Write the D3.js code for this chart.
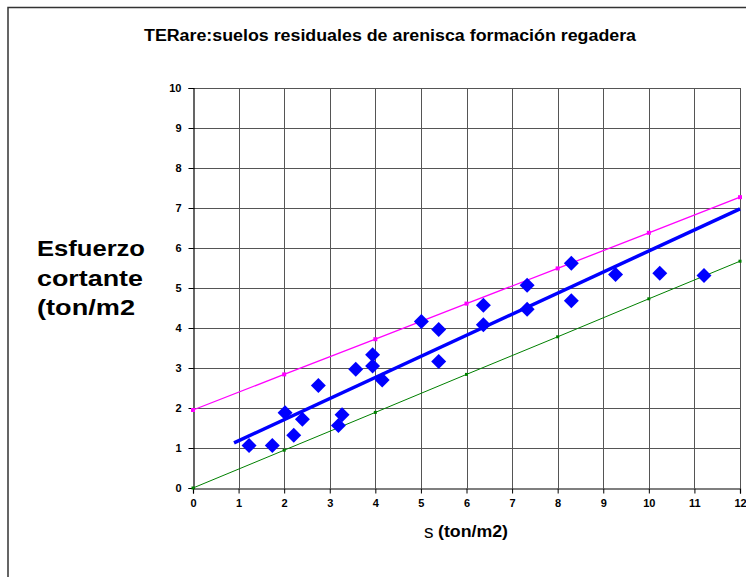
<!DOCTYPE html>
<html>
<head>
<meta charset="utf-8">
<script src="https://cdn.jsdelivr.net/npm/d3@7"></script>
<style>
  html, body { margin: 0; padding: 0; background: #fff; }
  svg { display: block; }
  text { font-family: "Liberation Sans", Arial, sans-serif; }
</style>
</head>
<body>
<svg id="chart" width="746" height="577"></svg>
<script>
// Measured shear test points: normal stress (ton/m2) vs shear stress (ton/m2)
const sigma = [1.23, 1.74, 2.02, 2.21, 2.40, 2.75, 3.19, 3.27, 3.57, 3.94, 3.94, 4.15,
               5.01, 5.39, 5.39, 6.37, 6.37, 7.33, 7.33, 8.30, 8.30, 9.27, 10.24, 11.21];
const tau   = [1.06, 1.06, 1.88, 1.32, 1.72, 2.56, 1.56, 1.83, 2.97, 3.33, 3.05, 2.70,
               4.16, 3.96, 3.16, 4.08, 4.57, 5.07, 4.47, 5.62, 4.68, 5.34, 5.37, 5.31];

// Fitted trend line end points
const fitX = [0.9, 12];
const fitY = [1.13, 6.98];

// Upper envelope (magenta) and lower envelope (green)
const envX     = [0, 2, 4, 6, 8, 10, 12];
const upperY   = [1.95, 2.84, 3.72, 4.61, 5.49, 6.38, 7.27];
const lowerY   = [0, 0.945, 1.89, 2.84, 3.78, 4.73, 5.67];

const xTicks = d3.range(0, 13);
const yTicks = d3.range(0, 11);

const titleText = "TERare:suelos residuales de arenisca formación regadera";
const yTitleLines = ["Esfuerzo", "cortante", "(ton/m2"];
const yTitleWidths = [108, 106, 98];

const svg = d3.select("#chart");

// outer frame (only top and left edges fall inside the page)
svg.append("path")
  .attr("d", "M8,577 V7.5 H746")
  .attr("fill", "none")
  .attr("stroke", "#333")
  .attr("stroke-width", 1.5);

const x = d3.scaleLinear().domain([0, 12]).range([193, 740]);
const y = d3.scaleLinear().domain([0, 10]).range([488, 88]);

// gridlines
const grid = svg.append("g").attr("stroke", "#555").attr("stroke-width", 1);
grid.selectAll("line.v").data(xTicks.slice(1)).join("line")
  .attr("x1", d => Math.round(x(d)) + 0.5).attr("x2", d => Math.round(x(d)) + 0.5)
  .attr("y1", y(10)).attr("y2", y(0));
grid.selectAll("line.h").data(yTicks.slice(1)).join("line")
  .attr("x1", x(0)).attr("x2", x(12))
  .attr("y1", d => Math.round(y(d)) + 0.5).attr("y2", d => Math.round(y(d)) + 0.5);

// axes
const xAxis = svg.append("g")
  .attr("transform", `translate(0,${y(0) + 0.5})`)
  .call(d3.axisBottom(x).tickValues(xTicks).tickSize(5).tickPadding(6).tickFormat(d3.format("d")));
const yAxis = svg.append("g")
  .attr("transform", `translate(${x(0) + 0.5},0)`)
  .call(d3.axisLeft(y).tickValues(yTicks).tickSize(5).tickPadding(7).tickFormat(d3.format("d")));
[xAxis, yAxis].forEach(g => {
  g.select(".domain").attr("stroke", "#000").attr("stroke-width", 1.2);
  g.selectAll(".tick line").attr("stroke", "#000");
  g.selectAll(".tick text")
    .attr("font-family", "'Liberation Sans', Arial, sans-serif")
    .attr("font-size", 11).attr("font-weight", "bold").attr("fill", "#000");
});

// envelopes
const line = d3.line().x(d => x(d[0])).y(d => y(d[1]));
const upper = envX.map((v, i) => [v, upperY[i]]);
const lower = envX.map((v, i) => [v, lowerY[i]]);

svg.append("path").datum(upper).attr("d", line)
  .attr("fill", "none").attr("stroke", "#ff00ff").attr("stroke-width", 1.3);
svg.selectAll("rect.up").data(upper).join("rect")
  .attr("x", d => x(d[0]) - 2).attr("y", d => y(d[1]) - 2)
  .attr("width", 4).attr("height", 4).attr("fill", "#ff00ff");

svg.append("path").datum(lower).attr("d", line)
  .attr("fill", "none").attr("stroke", "#008000").attr("stroke-width", 1);
svg.selectAll("rect.lo").data(lower).join("rect")
  .attr("x", d => x(d[0]) - 1.5).attr("y", d => y(d[1]) - 1.5)
  .attr("width", 3).attr("height", 3).attr("fill", "#008000");

// trend line
svg.append("path").datum(fitX.map((v, i) => [v, fitY[i]])).attr("d", line)
  .attr("fill", "none").attr("stroke", "#0000ff").attr("stroke-width", 3.5);

// data points as diamonds
const diamond = d3.symbol().type(d3.symbolSquare).size(112);
svg.selectAll("path.pt").data(sigma.map((v, i) => [v, tau[i]])).join("path")
  .attr("d", diamond)
  .attr("transform", d => `translate(${x(d[0])},${y(d[1])}) rotate(45)`)
  .attr("fill", "#0000ff");

// title
svg.append("text")
  .attr("x", 390).attr("y", 41)
  .attr("text-anchor", "middle")
  .attr("font-size", 16).attr("font-weight", "bold")
  .attr("textLength", 492).attr("lengthAdjust", "spacingAndGlyphs")
  .text(titleText);

// y-axis title
svg.append("g").selectAll("text").data(yTitleLines).join("text")
  .attr("x", 37).attr("y", (d, i) => [256, 286, 315][i])
  .attr("font-size", 22.5).attr("font-weight", "bold")
  .attr("textLength", (d, i) => yTitleWidths[i]).attr("lengthAdjust", "spacingAndGlyphs")
  .text(d => d);

// x-axis title: sigma symbol followed by units
svg.append("text").attr("x", 424).attr("y", 538)
  .attr("font-family", "'Liberation Serif', 'Times New Roman', serif")
  .attr("font-size", 19).text("s");
svg.append("text").attr("x", 438).attr("y", 537)
  .attr("font-size", 16).attr("font-weight", "bold")
  .attr("textLength", 70).attr("lengthAdjust", "spacingAndGlyphs")
  .text("(ton/m2)");
</script>
</body>
</html>
